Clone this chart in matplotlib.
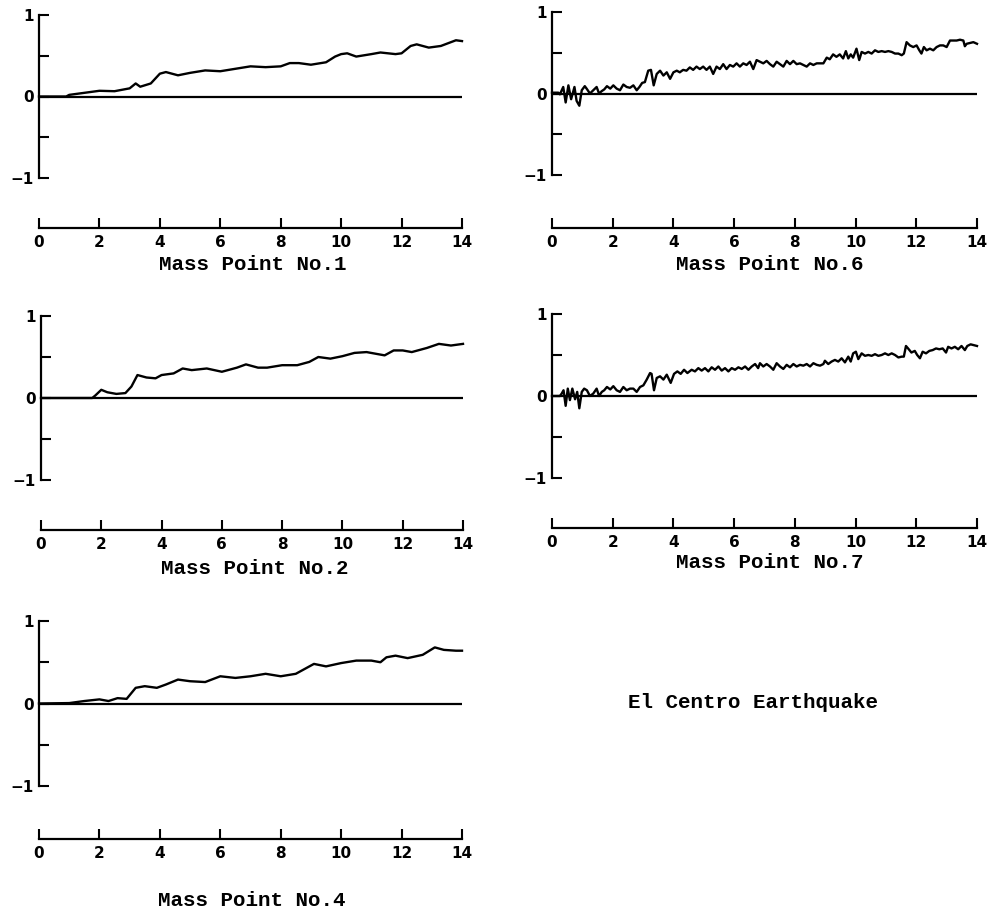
import matplotlib

matplotlib.use("Agg")
import matplotlib.pyplot as plt

# time (s) and response for each mass point
t_mass1 = [0, 0.9, 1.0, 1.5, 2.0, 2.5, 3.0, 3.2, 3.35, 3.7, 4.0, 4.2, 4.6, 5.0, 5.5, 6.0, 6.5, 7.0,
           7.5, 8.0, 8.3, 8.6, 9.0, 9.5, 9.8, 10.0, 10.2, 10.5, 11.0, 11.3, 11.8, 12.0, 12.3, 12.5,
           12.9, 13.3, 13.8, 14.0]
v_mass1 = [0, 0, 0.02, 0.045, 0.07, 0.065, 0.10, 0.16, 0.12, 0.16, 0.28, 0.30, 0.26, 0.29, 0.32,
           0.31, 0.34, 0.37, 0.36, 0.37, 0.41, 0.41, 0.39, 0.42, 0.49, 0.52, 0.53, 0.49, 0.52, 0.54,
           0.52, 0.53, 0.62, 0.64, 0.60, 0.62, 0.69, 0.68]

t_mass2 = [0, 1.7, 1.8, 2.0, 2.2, 2.5, 2.8, 3.0, 3.2, 3.5, 3.8, 4.0, 4.4, 4.7, 5.0, 5.5, 6.0, 6.5,
           6.8, 7.2, 7.5, 8.0, 8.5, 8.9, 9.2, 9.6, 10.0, 10.4, 10.8, 11.4, 11.7, 12.0, 12.3, 12.8,
           13.2, 13.6, 14.0]
v_mass2 = [0, 0, 0.03, 0.10, 0.07, 0.05, 0.06, 0.14, 0.28, 0.25, 0.24, 0.28, 0.30, 0.36, 0.34,
           0.36, 0.32, 0.37, 0.41, 0.37, 0.37, 0.40, 0.40, 0.44, 0.50, 0.48, 0.51, 0.55, 0.56, 0.52,
           0.58, 0.58, 0.56, 0.61, 0.66, 0.64, 0.66]

t_mass4 = [0, 1.0, 1.5, 2.0, 2.3, 2.6, 2.9, 3.2, 3.5, 3.9, 4.2, 4.6, 5.0, 5.5, 6.0, 6.5, 7.0, 7.5,
           8.0, 8.5, 8.8, 9.1, 9.5, 10.0, 10.5, 11.0, 11.3, 11.5, 11.8, 12.2, 12.7, 13.1, 13.4,
           13.8, 14.0]
v_mass4 = [0, 0.005, 0.03, 0.05, 0.03, 0.065, 0.056, 0.19, 0.21, 0.19, 0.23, 0.29, 0.27, 0.26,
           0.33, 0.31, 0.33, 0.36, 0.33, 0.36, 0.42, 0.48, 0.45, 0.49, 0.52, 0.52, 0.50, 0.56, 0.58,
           0.55, 0.59, 0.68, 0.65, 0.64, 0.64]

t_mass6 = [0, 0.21, 0.26, 0.37, 0.45, 0.54, 0.63, 0.74, 0.81, 0.90, 0.98, 1.08, 1.14, 1.25, 1.36,
           1.47, 1.55, 1.64, 1.72, 1.81, 1.92, 2.02, 2.13, 2.24, 2.35, 2.46, 2.57, 2.68, 2.79, 2.88,
           2.97, 3.06, 3.17, 3.26, 3.35, 3.45, 3.56, 3.67, 3.78, 3.89, 4.0, 4.11, 4.21, 4.32, 4.43,
           4.54, 4.65, 4.76, 4.87, 4.98, 5.09, 5.2, 5.31, 5.42, 5.53, 5.64, 5.75, 5.86, 5.97, 6.08,
           6.19, 6.30, 6.41, 6.52, 6.63, 6.74,
           6.85, 6.96, 7.07, 7.18, 7.29, 7.40, 7.51, 7.62, 7.73, 7.84, 7.95, 8.06, 8.17, 8.28, 8.39,
           8.50, 8.61, 8.72, 8.83, 8.94, 9.05, 9.15, 9.26, 9.37, 9.48, 9.59, 9.68, 9.76, 9.84, 9.92,
           10.03, 10.12, 10.2, 10.31, 10.42, 10.53, 10.64, 10.75, 10.86, 10.97, 11.08, 11.19, 11.3,
           11.41, 11.52, 11.59, 11.68, 11.79, 11.9, 12.01, 12.1, 12.17, 12.25, 12.34, 12.45, 12.56,
           12.67, 12.78, 12.89, 13.0, 13.11, 13.22, 13.33, 13.44, 13.55, 13.6, 13.66, 13.77, 13.88,
           14.0]
v_mass6 = [0.01, 0.01, -0.01, 0.08, -0.11, 0.10, -0.07, 0.08, -0.09, -0.15, 0.04, 0.09, 0.06, 0.00,
           0.04, 0.08, 0.00, 0.03, 0.05, 0.09, 0.06, 0.10, 0.06, 0.04, 0.11, 0.08, 0.07, 0.10, 0.04,
           0.08, 0.13, 0.14, 0.28, 0.29, 0.10, 0.24, 0.28, 0.22, 0.26, 0.18, 0.26, 0.28, 0.26, 0.29,
           0.28, 0.32, 0.29, 0.33, 0.30, 0.33, 0.29, 0.33, 0.24, 0.33, 0.30, 0.36, 0.30, 0.35, 0.33,
           0.37, 0.33, 0.37, 0.35, 0.39, 0.30, 0.41,
           0.39, 0.37, 0.40, 0.36, 0.33, 0.39, 0.36, 0.33, 0.40, 0.36, 0.40, 0.36, 0.37, 0.35, 0.33,
           0.37, 0.35, 0.37, 0.37, 0.37, 0.44, 0.42, 0.48, 0.45, 0.48, 0.43, 0.52, 0.43, 0.48, 0.44,
           0.55, 0.41, 0.51, 0.49, 0.51, 0.49, 0.53, 0.51, 0.52, 0.51, 0.52, 0.51, 0.49, 0.49, 0.47,
           0.49, 0.63, 0.59, 0.57, 0.59, 0.53, 0.49, 0.57, 0.53, 0.55, 0.53, 0.57, 0.59, 0.59, 0.57,
           0.65, 0.65, 0.65, 0.66, 0.65, 0.58, 0.61, 0.62, 0.63, 0.61]

t_mass7 = [0, 0.26, 0.32, 0.38, 0.45, 0.52, 0.59, 0.67, 0.76, 0.83, 0.90, 0.98, 1.06, 1.15, 1.25,
           1.36, 1.47, 1.55, 1.64, 1.72, 1.81, 1.92, 2.02, 2.13, 2.24, 2.35, 2.46, 2.57, 2.68, 2.79,
           2.90, 3.01, 3.12, 3.23, 3.28, 3.36, 3.45, 3.56, 3.67, 3.78, 3.91, 4.02, 4.13, 4.24, 4.35,
           4.46, 4.60, 4.71, 4.82, 4.93, 5.04, 5.15, 5.26, 5.37, 5.48, 5.59, 5.70, 5.81, 5.92, 6.03,
           6.14, 6.25, 6.36, 6.47, 6.58, 6.69, 6.79,
           6.85, 6.96, 7.07, 7.18, 7.29, 7.40, 7.51, 7.62, 7.73, 7.84, 7.95, 8.06, 8.17, 8.28, 8.39,
           8.50, 8.61, 8.72, 8.83, 8.94, 8.99, 9.10, 9.21, 9.32, 9.43, 9.54, 9.65, 9.76, 9.84, 9.92,
           10.01, 10.09, 10.20, 10.31, 10.42, 10.53, 10.64, 10.75, 10.86, 10.97, 11.08, 11.19,
           11.30, 11.41, 11.52, 11.59, 11.66, 11.73, 11.84, 11.95, 12.03, 12.12, 12.21, 12.32,
           12.43, 12.54, 12.65, 12.76, 12.87, 12.98, 13.05, 13.16, 13.27, 13.38, 13.49, 13.60,
           13.68, 13.79, 13.90, 14.0]
v_mass7 = [0, 0, 0.03, 0.07, -0.12, 0.09, -0.05, 0.09, -0.04, 0.05, -0.15, 0.05, 0.09, 0.07, 0,
           0.03, 0.09, 0, 0.05, 0.07, 0.11, 0.08, 0.12, 0.07, 0.05, 0.11, 0.07, 0.09, 0.09, 0.05,
           0.11, 0.13, 0.20, 0.28, 0.27, 0.07, 0.22, 0.24, 0.20, 0.26, 0.16, 0.27, 0.30, 0.27, 0.32,
           0.28, 0.32, 0.30, 0.34, 0.31, 0.34, 0.30, 0.35, 0.32, 0.36, 0.31, 0.34, 0.30, 0.34, 0.32,
           0.35, 0.33, 0.36, 0.32, 0.36, 0.39, 0.34,
           0.40, 0.36, 0.39, 0.36, 0.32, 0.40, 0.36, 0.33, 0.38, 0.35, 0.39, 0.36, 0.38, 0.37, 0.39,
           0.36, 0.40, 0.38, 0.37, 0.39, 0.43, 0.39, 0.42, 0.44, 0.42, 0.46, 0.41, 0.48, 0.42, 0.52,
           0.54, 0.45, 0.52, 0.49, 0.50, 0.49, 0.51, 0.49, 0.50, 0.52, 0.50, 0.52, 0.50, 0.47, 0.48,
           0.48, 0.61, 0.58, 0.53, 0.55, 0.50, 0.46, 0.54, 0.52, 0.55, 0.56, 0.58, 0.57, 0.58, 0.53,
           0.60, 0.58, 0.60, 0.57, 0.61, 0.56, 0.61, 0.63, 0.62, 0.61]

x_ticks = [0, 2, 4, 6, 8, 10, 12, 14]
y_ticks = [-1, -0.5, 0, 0.5, 1]
y_ticklabels = ["\u22121", "", "0", "", "1"]

W, H = 991, 911
TITLE_FONT = dict(family="Liberation Mono", size=15, weight="bold")

# (left, top, right, bottom) of the y range in pixels, x-axis offset px, title centre
panels = [
    (t_mass1, v_mass1, "Mass Point No.1", (39, 15, 462, 178), 50, (253, 264)),
    (t_mass6, v_mass6, "Mass Point No.6", (552, 12, 977, 175), 53, (770, 264)),
    (t_mass2, v_mass2, "Mass Point No.2", (41, 316, 463, 480), 50, (255, 568)),
    (t_mass7, v_mass7, "Mass Point No.7", (552, 314, 977, 478), 50, (770, 562)),
    (t_mass4, v_mass4, "Mass Point No.4", (39, 621, 462, 786), 53, (252, 900)),
]

fig = plt.figure(figsize=(W / 100, H / 100), dpi=100)

for t, v, title, (l, tp, r, b), off, (tx, ty) in panels:
    ax = fig.add_axes([l / W, 1 - b / H, (r - l) / W, (b - tp) / H])
    ax.plot(t, v, color="black", lw=1.7, clip_on=False)
    ax.axhline(0, color="black", lw=1.6)
    ax.set_xlim(0, 14)
    ax.set_ylim(-1, 1)
    for side in ("top", "right"):
        ax.spines[side].set_visible(False)
    ax.spines["left"].set_linewidth(1.6)
    ax.spines["bottom"].set_linewidth(1.6)
    ax.spines["bottom"].set_position(("outward", off * 0.72))
    ax.set_xticks(x_ticks)
    ax.set_yticks(y_ticks)
    ax.set_yticklabels(y_ticklabels)
    ax.tick_params(direction="in", length=7, width=1.5, labelsize=11)
    ax.tick_params(axis="x", pad=5)
    ax.tick_params(axis="y", pad=4)
    for lab in ax.get_xticklabels() + ax.get_yticklabels():
        lab.set_fontweight("bold")
    fig.text(tx / W, 1 - ty / H, title, ha="center", va="center", **TITLE_FONT)

fig.text(753 / W, 1 - 702 / H, "El Centro Earthquake", ha="center", va="center", **TITLE_FONT)

fig.savefig("out.png", dpi=100)
